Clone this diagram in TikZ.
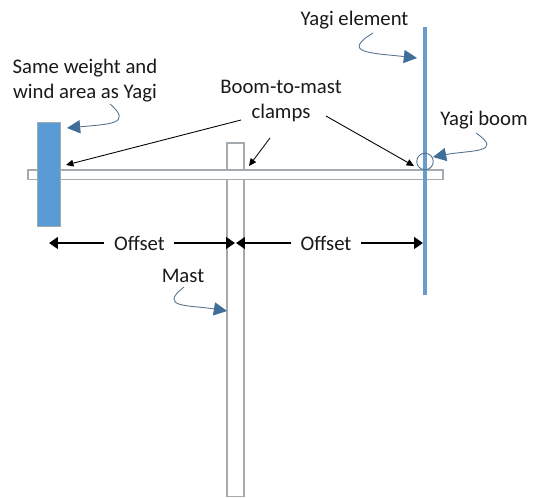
\documentclass[tikz,border=0pt]{standalone}
\usepackage{fontspec}
\setmainfont{Carlito}
\usetikzlibrary{arrows.meta}
\definecolor{barblue}{RGB}{91,155,213}
\definecolor{elementblue}{RGB}{105,155,205}
\definecolor{edgegray}{RGB}{165,170,175}
\definecolor{calloutblue}{RGB}{65,110,150}
\tikzset{
    part/.style={draw=edgegray, line width=0.9pt, fill=white, inner sep=0pt},
    label/.style={font=\fontsize{11.8}{14}\selectfont, text=black!90, inner sep=0pt, align=center},
    callout/.style={draw=calloutblue!70!gray, line width=0.5pt, -{Triangle[length=7.5pt,width=7.5pt,fill=calloutblue,color=calloutblue]}},
    clamp/.style={draw=black, line width=0.5pt, -{Triangle[length=4.2pt,width=3.8pt]}},
    offset/.style={draw=black, line width=1.3pt, -{Triangle[length=5pt,width=6.5pt]}}
}
\begin{document}
\begin{tikzpicture}[x=0.02cm,y=-0.02cm]
    \useasboundingbox (0,0) rectangle (540,497);
    % parts
    \node[part, minimum width=0.34cm, minimum height=7.08cm] (mast) at (235.5,319.7) {};
    \node[part, minimum width=8.3cm, minimum height=0.19cm] (boom) at (235.25,174.75) {};
    \node[draw=edgegray, line width=0.6pt, fill=barblue, inner sep=0pt, minimum width=0.45cm, minimum height=2.09cm] (weight) at (49,174.3) {};
    \node[fill=elementblue, inner sep=0pt, minimum width=0.08cm, minimum height=5.36cm] (element) at (425,161) {};
    \node[draw=calloutblue!80!gray, line width=0.5pt, circle, inner sep=0pt, minimum size=0.33cm] (yoke) at (425,161.5) {};
    % labels
    \node[label] (weighttext) at (85,80.5) {Same weight and\\[0.5pt]wind area as Yagi};
    \node[label] (clamptext) at (281,101) {Boom-to-mast\\clamps};
    \node[label] (elementtext) at (354.5,20.5) {Yagi element};
    \node[label] (boomtext) at (484,120.5) {Yagi boom};
    \node[label] (masttext) at (183,276) {Mast};
    \node[label] (offsetleft) at (139.5,243) {Offset};
    \node[label] (offsetright) at (326,243) {Offset};
    % curved callouts
    \coordinate (weighttip) at (67,128);
    \coordinate (elementtip) at (417,58);
    \coordinate (boomtip) at (433,157);
    \coordinate (masttip) at (227,311);
    \draw[callout] (110,104) .. controls (133,124) and (110,124) .. (weighttip);
    \draw[callout] (373,33) .. controls (340,53) and (372,53) .. (elementtip);
    \draw[callout] (476,133) .. controls (505,153) and (470,150) .. (boomtip);
    \draw[callout] (184,287) .. controls (157,308) and (190,305) .. (masttip);
    % clamp arrows
    \coordinate (clampleft) at (66,165);
    \coordinate (clampmid) at (249,166);
    \coordinate (clampright) at (414,166);
    \draw[clamp] (241,120) -- (clampleft);
    \draw[clamp] (270,138) -- (clampmid);
    \draw[clamp] (326,116) -- (clampright);
    % offset arrows
    \draw[offset] (offsetleft.west) ++(-10,0) -- (49,243);
    \draw[offset] (offsetleft.east) ++(9,0) -- (235,243);
    \draw[offset] (offsetright.west) ++(-9,0) -- (236,243);
    \draw[offset] (offsetright.east) ++(9,0) -- (423,243);
\end{tikzpicture}
\end{document}
